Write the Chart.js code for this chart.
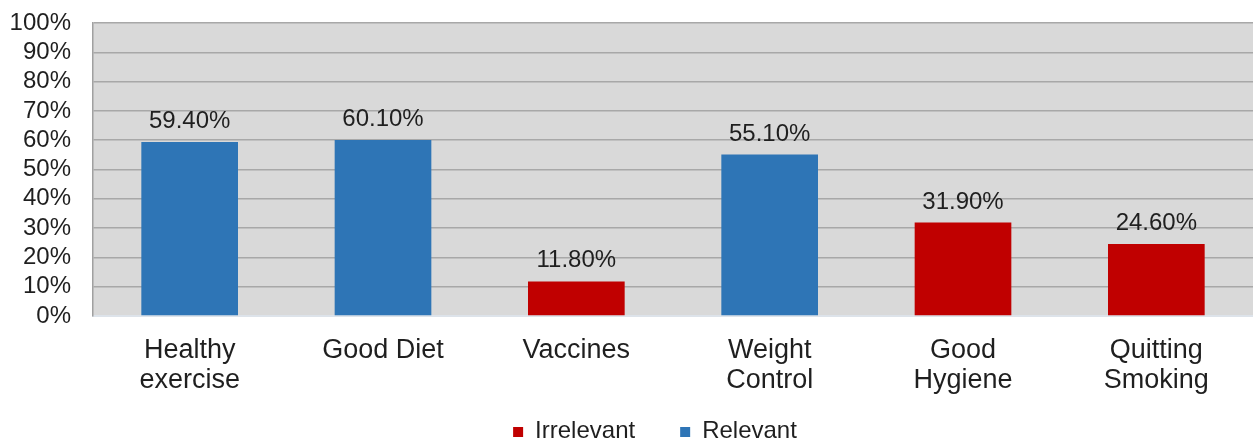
<!DOCTYPE html>
<html>
<head>
<meta charset="utf-8">
<script src="https://cdn.jsdelivr.net/npm/chart.js@4.4.1/dist/chart.umd.min.js"></script>
<style>
  html, body { margin: 0; padding: 0; background: #ffffff; }
  #wrap { width: 1253px; height: 444px; position: relative; }
</style>
</head>
<body>
<div id="wrap"><canvas id="chart"></canvas></div>
<script>
// Categories (multi-line labels) and the share of respondents for each
const categories = [
  ['Healthy', 'exercise'],
  ['Good Diet'],
  ['Vaccines'],
  ['Weight', 'Control'],
  ['Good', 'Hygiene'],
  ['Quitting', 'Smoking']
];
const irrelevantValues = [null, null, 11.8, null, 31.9, 24.6];
const relevantValues   = [59.4, 60.1, null, 55.1, null, null];
const yTicks = [0, 10, 20, 30, 40, 50, 60, 70, 80, 90, 100];

const FONT = "'Liberation Sans', Arial, sans-serif";
const TEXT = '#1f1f1f';

// Grey plotting area behind the bars
const plotBackground = {
  id: 'plotBackground',
  beforeDraw(chart) {
    const { ctx, chartArea: a } = chart;
    ctx.save();
    ctx.fillStyle = '#d9d9d9';
    ctx.fillRect(a.left, a.top, a.right - a.left, a.bottom - a.top);
    ctx.restore();
  }
};

// Percentage labels above each bar
const valueLabels = {
  id: 'valueLabels',
  afterDatasetsDraw(chart) {
    const { ctx } = chart;
    ctx.save();
    ctx.font = '24px ' + FONT;
    ctx.fillStyle = TEXT;
    ctx.textAlign = 'center';
    ctx.textBaseline = 'alphabetic';
    chart.data.datasets.forEach((ds, di) => {
      const meta = chart.getDatasetMeta(di);
      meta.data.forEach((bar, i) => {
        const v = ds.data[i];
        if (v === null || v === undefined) return;
        ctx.fillText(v.toFixed(2) + '%', bar.x, bar.y - 14);
      });
    });
    ctx.restore();
  }
};

// Legend row at the bottom with small square swatches
const bottomLegend = {
  id: 'bottomLegend',
  afterDraw(chart) {
    const { ctx } = chart;
    const box = 10, gapText = 12, gapItem = 45;
    ctx.save();
    ctx.font = '24px ' + FONT;
    const items = chart.data.datasets.map(ds => ({
      text: ds.label, color: ds.backgroundColor, w: ctx.measureText(ds.label).width
    }));
    let total = 0;
    items.forEach((it, i) => { total += box + gapText + it.w + (i ? gapItem : 0); });
    let x = 655 - total / 2;
    const baseline = 438;
    items.forEach(it => {
      ctx.fillStyle = it.color;
      ctx.fillRect(x, baseline - 11, box, box);
      x += box + gapText;
      ctx.fillStyle = TEXT;
      ctx.textAlign = 'left';
      ctx.textBaseline = 'alphabetic';
      ctx.fillText(it.text, x, baseline);
      x += it.w + gapItem;
    });
    ctx.restore();
  }
};

new Chart(document.getElementById('chart'), {
  type: 'bar',
  data: {
    labels: categories,
    datasets: [
      { label: 'Irrelevant', data: irrelevantValues, backgroundColor: '#c00000' },
      { label: 'Relevant',   data: relevantValues,   backgroundColor: '#2e75b6' }
    ]
  },
  options: {
    responsive: true,
    maintainAspectRatio: false,
    animation: false,
    devicePixelRatio: 1,
    layout: { padding: { top: 23, right: 0, left: 0, bottom: 0 } },
    datasets: { bar: { categoryPercentage: 1, barPercentage: 0.5 } },
    plugins: {
      legend: { display: false },
      tooltip: { enabled: false }
    },
    scales: {
      x: {
        stacked: true,
        grid: { display: false, drawTicks: false },
        border: { display: true, color: '#dde3ea', width: 2 },
        ticks: {
          color: TEXT,
          font: { family: FONT, size: 27, lineHeight: 1.1 },
          padding: 20,
          maxRotation: 0,
          autoSkip: false
        },
        afterFit(scale) {
          scale.height = 444 - 316;
          scale.paddingLeft = 0; scale.paddingRight = 0;
          scale.paddingTop = 0; scale.paddingBottom = 0;
        }
      },
      y: {
        stacked: true,
        min: 0,
        max: 100,
        afterBuildTicks(scale) { scale.ticks = yTicks.map(v => ({ value: v })); },
        grid: {
          drawTicks: false,
          color: ctx => (ctx.tick && ctx.tick.value === 0 ? 'rgba(0,0,0,0)' : '#a8a8a8'),
          lineWidth: 1.5
        },
        border: { display: true, color: '#a0a0a0', width: 1.5 },
        ticks: {
          color: TEXT,
          font: { family: FONT, size: 24 },
          padding: 22,
          autoSkip: false,
          callback: v => v + '%'
        },
        afterFit(scale) {
          scale.width = 93;
          scale.paddingTop = 0; scale.paddingBottom = 0;
          scale.paddingLeft = 0; scale.paddingRight = 0;
        }
      }
    }
  },
  plugins: [plotBackground, valueLabels, bottomLegend]
});
</script>
</body>
</html>
